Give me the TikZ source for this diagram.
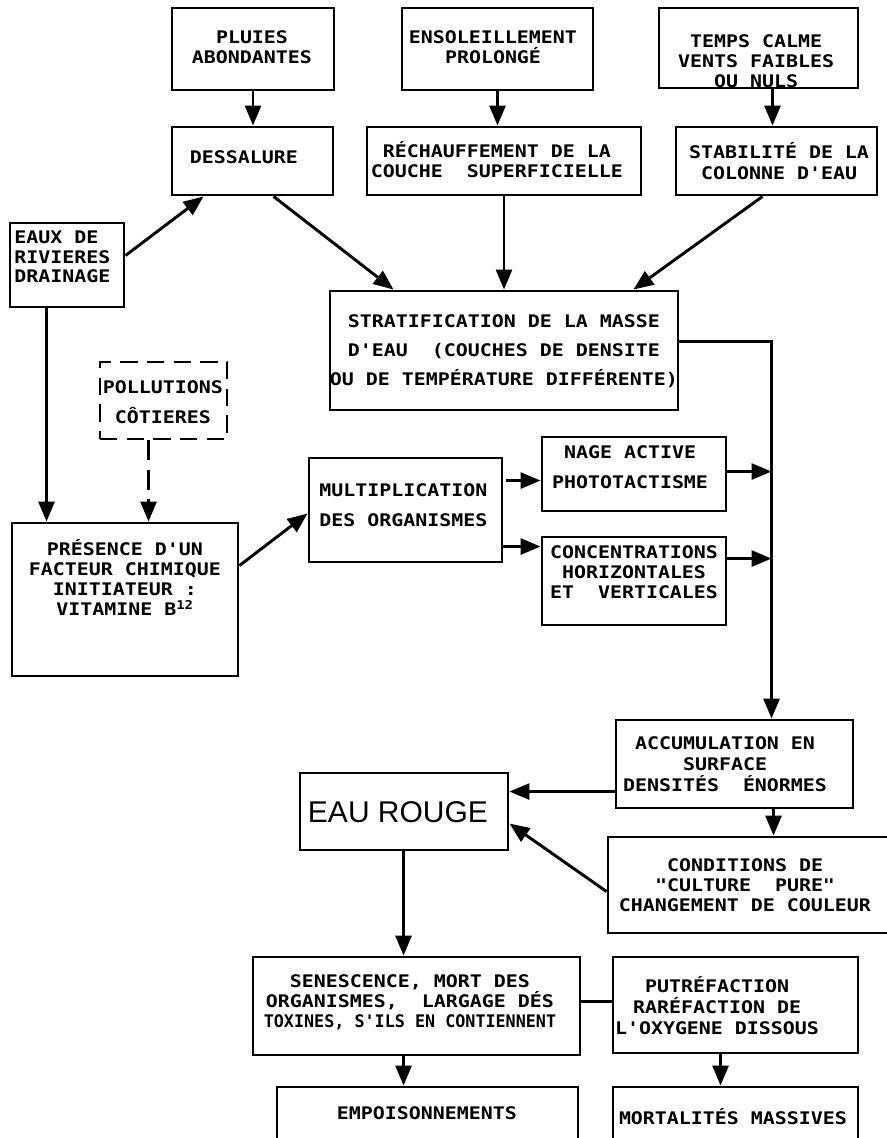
\documentclass[tikz,border=0pt]{standalone}
\usepackage{fontspec}
\usepackage{graphicx}
\usetikzlibrary{arrows.meta,calc}
\newfontfamily\lett[FakeStretch=1.15]{DejaVu Sans Mono}
\newfontfamily\rougefont{Liberation Sans}
\tikzset{
  boxst/.style={draw, line width=2.2pt, inner sep=0pt, rectangle},
  dashbox/.style={boxst, dash pattern=on 13pt off 7pt},
  tx/.style={font=\lett\bfseries\fontsize{13pt}{#1}\selectfont, inner sep=0pt, align=center},
  rouge/.style={font=\rougefont\fontsize{22.5pt}{26pt}\selectfont, inner sep=0pt},
  arr/.style={line width=2.2pt, -{Triangle[length=15pt,width=12pt]}},
  plain/.style={line width=2.2pt},
}
\newcommand\mybox[6][]{\node[boxst,#1,minimum width={(#5-#3)*0.75pt},minimum height={(#6-#4)*0.75pt}] (#2) at ({(#3+#5)/2},{(#4+#6)/2}) {};}
\begin{document}
\begin{tikzpicture}[x=0.75pt,y=-0.75pt]
\useasboundingbox (0,0) rectangle (886,1138);
\fill[white] (0,0) rectangle (886,1138);
% boxes
\mybox{pluies}{172}{8}{334}{90}
\mybox{enso}{402}{8}{593}{90}
\mybox{temps}{659}{8}{858}{88}
\mybox{dess}{172}{127}{333}{195}
\mybox{rech}{367}{127}{641}{195}
\mybox{stab}{676}{127}{877}{195}
\mybox{eaux}{10}{223}{124}{307}
\mybox{strat}{330}{291}{678}{410}
\mybox[dashbox]{poll}{100}{362}{227}{439}
\mybox{pres}{12}{523}{238}{676}
\mybox{multi}{309}{458}{502}{562}
\mybox{nage}{542}{437}{726}{511}
\mybox{conc}{542}{537}{726}{625}
\mybox{accum}{616}{720}{853}{808}
\mybox{rouge}{300}{773}{508}{850}
\mybox{cond}{608}{837}{895}{933}
\mybox{sen}{253}{957}{580}{1055}
\mybox{putre}{613}{957}{858}{1053}
\mybox{emp}{277}{1087}{578}{1145}
\mybox{mort}{613}{1087}{858}{1145}
% texts
\node[tx=15pt] (t-pluies) at (252,47) {PLUIES\\ABONDANTES};
\node[tx=15pt] (t-enso) at (493,47) {ENSOLEILLEMENT\\PROLONGÉ};
\node[tx=15pt] (t-temps) at (756,61) {TEMPS CALME\\VENTS FAIBLES\\OU NULS};
\node[tx=15pt] (t-dess) at (244,157) {DESSALURE};
\node[tx=15pt] (t-rech) at (497,160) {RÉCHAUFFEMENT DE LA\\COUCHE\ \ SUPERFICIELLE};
\node[tx=15.75pt] (t-stab) at (779,161) {STABILITÉ DE LA\\COLONNE D'EAU};
\node[tx=14.6pt, align=left, anchor=west] (t-eaux) at (14,257) {EAUX DE\\RIVIERES\\DRAINAGE};
\node[tx=21.75pt] (t-strat) at (504,351) {STRATIFICATION DE LA MASSE\\D'EAU\ \ (COUCHES DE DENSITE\\OU DE TEMPÉRATURE DIFFÉRENTE)};
\node[tx=22.5pt] (t-poll) at (163,402) {POLLUTIONS\\CÔTIERES};
\node[tx=15pt] (t-pres) at (125,577) {PRÉSENCE D'UN\\FACTEUR CHIMIQUE\\INITIATEUR :\\VITAMINE B\textsuperscript{12}};
\node[tx=22.5pt, align=left, anchor=west] (t-multi) at (319,505) {MULTIPLICATION\\DES ORGANISMES};
\node[tx=22.5pt] (t-nage) at (630,467) {NAGE ACTIVE\\PHOTOTACTISME};
\node[tx=15pt] (t-conc) at (634,572) {CONCENTRATIONS\\HORIZONTALES\\ET\ \ VERTICALES};
\node[tx=15.75pt] (t-accum) at (725,764) {ACCUMULATION EN\\SURFACE\\DENSITÉS\ \ ÉNORMES};
\node[rouge] (t-rouge) at (398,812) {EAU ROUGE};
\node[tx=15pt] (t-cond) at (745,885) {CONDITIONS DE\\"CULTURE\ \ PURE"\\CHANGEMENT DE COULEUR};
\node[tx=15pt] (t-sen) at (410,1002) {SENESCENCE, MORT DES\\ORGANISMES,\ \ LARGAGE DÉS\\\scalebox{0.84}[1]{TOXINES, S'ILS EN CONTIENNENT}};
\node[tx=15.75pt] (t-putre) at (717,1006) {PUTRÉFACTION\\RARÉFACTION DE\\L'OXYGENE DISSOUS};
\node[tx=15pt] (t-emp) at (427,1113) {EMPOISONNEMENTS};
\node[tx=15pt] (t-mort) at (733,1117) {MORTALITÉS MASSIVES};
% coordinates
\coordinate (bus) at ($(accum.north west)+(157,0)$);
\coordinate (stratout) at ($(strat.north east)+(0,52)$);
\coordinate (nageout) at ($(nage.north east)+(0,36)$);
\coordinate (concout) at ($(conc.north east)+(0,23)$);
\coordinate (accout) at ($(accum.north west)+(0,73)$);
\coordinate (stabin) at ($(stab.north)+(-4,0)$);
% connectors
\draw[arr] (pluies.south) -- (pluies.south |- dess.north);
\draw[arr] (enso.south) -- (enso.south |- rech.north);
\draw[arr] (stabin |- temps.south) -- (stabin);
\draw[arr] ($(eaux.north east)+(0,34)$) -- ($(dess.south west)+(33,0)$);
\draw[arr] ($(dess.south west)+(103,0)$) -- ($(strat.north west)+(65,0)$);
\draw[arr] (rech.south) -- (strat.north);
\draw[arr] ($(stab.south west)+(88,0)$) -- ($(strat.north east)+(-46,0)$);
\draw[arr] ($(eaux.south west)+(38,0)$) -- ($(pres.north west)+(36,0)$);
\draw[arr, dash pattern=on 15pt off 7pt] ($(poll.south west)+(50,0)$) -- ($(pres.north west)+(138,0)$);
\draw[arr] ($(pres.north east)+(0,44)$) -- ($(multi.north west)+(0,57)$);
\draw[arr] ($(multi.north east)+(3,24)$) -- ($(nage.north west)+(0,45)$);
\draw[arr] ($(multi.north east)+(0,90)$) -- ($(conc.north west)+(0,11)$);
\draw[arr] (stratout) -| (bus);
\draw[arr] (nageout) -- (nageout -| bus);
\draw[arr] (concout) -- (concout -| bus);
\draw[arr] (accout) -- (accout -| rouge.east);
\draw[arr] ($(accum.south west)+(159,0)$) -- ($(cond.north west)+(167,0)$);
\draw[arr] ($(cond.north west)+(0,56)$) -- ($(rouge.north east)+(0,52)$);
\draw[arr] ($(rouge.south west)+(105,0)$) -- ($(sen.north west)+(152,0)$);
\draw[arr] ($(sen.south west)+(152,0)$) -- ($(emp.north west)+(128,0)$);
\draw[plain] ($(sen.north east)+(0,46)$) -- ($(putre.north west)+(0,46)$);
\draw[arr] ($(putre.south west)+(109,0)$) -- ($(mort.north west)+(109,0)$);
\end{tikzpicture}
\end{document}
